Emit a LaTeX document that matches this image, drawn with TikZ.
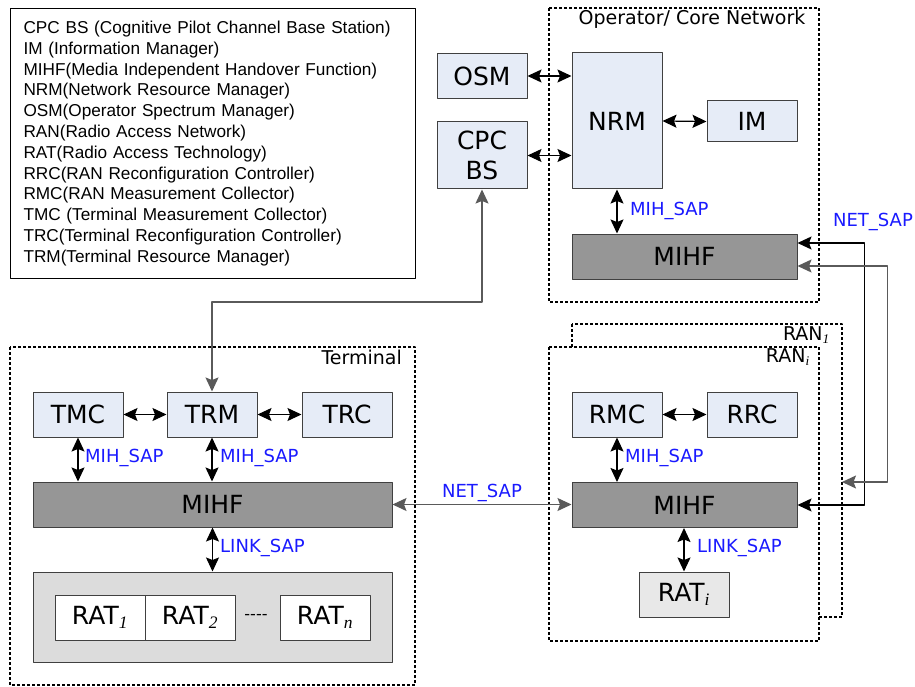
\documentclass[tikz,border=0pt]{standalone}
\usepackage{fontspec}
\setmainfont{DejaVu Sans}
\newfontfamily\legendfont{Liberation Sans}
\newfontfamily\subfont{Liberation Serif}
\usetikzlibrary{arrows.meta}
\definecolor{boxfill}{HTML}{E6ECF7}
\definecolor{boxline}{HTML}{404040}
\definecolor{mihffill}{HTML}{969696}
\definecolor{ratback}{HTML}{DCDCDC}
\definecolor{ratfill}{HTML}{E8E8E8}
\definecolor{sapblue}{HTML}{1A1AFF}
\definecolor{wiregray}{HTML}{5A5A5A}
\newcommand\ssub[1]{\textsubscript{\subfont\itshape #1}}
\begin{document}
\begin{tikzpicture}[x=1pt,y=-1pt, line join=round,
    >={Stealth[length=14pt,width=13pt,inset=2.5pt]},
    blk/.style={draw=boxline,fill=boxfill,line width=1pt,minimum width=90pt,minimum height=45pt,
        inner sep=0pt,font=\fontsize{25}{30}\selectfont,align=center},
    mihf/.style={blk,fill=mihffill,minimum width=225pt},
    area/.style={draw=black,line width=1.8pt,dash pattern=on 3pt off 2pt},
    sap/.style={text=sapblue,font=\fontsize{18}{20}\selectfont,inner sep=0pt},
    title/.style={font=\fontsize{19}{22}\selectfont,inner sep=0pt},
    link/.style={<->,line width=1.2pt}]
    \useasboundingbox (0,0) rectangle (915,687);
    % legend
    \node[draw=black,line width=1pt,anchor=north west,minimum width=405pt,minimum height=270pt,
        inner xsep=13pt,text width=379pt,align=left,
        font=\legendfont\fontsize{17.2}{20.8}\selectfont] (legend) at (10,8) {%
        CPC BS (Cognitive Pilot Channel Base Station)\\
        IM (Information Manager)\\
        MIHF(Media Independent Handover Function)\\
        NRM(Network Resource Manager)\\
        OSM(Operator Spectrum Manager)\\
        RAN(Radio Access Network)\\
        RAT(Radio Access Technology)\\
        RRC(RAN Reconfiguration Controller)\\
        RMC(RAN Measurement Collector)\\
        TMC (Terminal Measurement Collector)\\
        TRC(Terminal Reconfiguration Controller)\\
        TRM(Terminal Resource Manager)};
    % operator / core network
    \draw[area] (549,8) rectangle (819,302);
    \node[title] (optitle) at (692,19) {Operator/ Core Network};
    \node[blk] (osm) at (482,76) {OSM};
    \node[blk,minimum height=67pt] (cpc) at (482,155.5) {CPC\\BS};
    \node[blk,minimum height=136pt] (nrm) at (617,121) {NRM};
    \node[blk,minimum height=41pt] (im) at (752,121.5) {IM};
    \node[mihf] (mihfop) at (684.5,256.5) {MIHF};
    \draw[link] (osm.east) -- (osm.east -| nrm.west);
    \draw[link] (cpc.east) -- (cpc.east -| nrm.west);
    \draw[link] (nrm.east) -- (im.west);
    \draw[link] (nrm.south) -- (nrm.south |- mihfop.north);
    \node[sap,anchor=west] (sapop) at (630,211) {MIH\_SAP};
    % terminal
    \draw[area] (10,347) rectangle (415,685);
    \node[title,anchor=east] (termtitle) at (402,357) {Terminal};
    \node[blk] (tmc) at (78,414.5) {TMC};
    \node[blk] (trm) at (212,414.5) {TRM};
    \node[blk] (trc) at (347,414.5) {TRC};
    \node[mihf,minimum width=359pt] (mihft) at (212.5,504.5) {MIHF};
    \node[blk,fill=ratback,minimum width=359pt,minimum height=90pt] (ratbox) at (212.5,617) {};
    \node[blk,fill=white] (rat1) at (100,617.5) {RAT\ssub{1}};
    \node[blk,fill=white] (rat2) at (190,617.5) {RAT\ssub{2}};
    \node[blk,fill=white] (ratn) at (325,617.5) {RAT\ssub{n}};
    \node[font=\fontsize{16}{18}\selectfont,inner sep=0pt] (ratdots) at (256,617) {-{}-{}-{}-};
    \draw[link] (tmc.east) -- (trm.west);
    \draw[link] (trm.east) -- (trc.west);
    \draw[link] (tmc.south) -- (tmc.south |- mihft.north);
    \draw[link] (trm.south) -- (trm.south |- mihft.north);
    \draw[link] (mihft.south) -- (ratbox.north);
    \node[sap,anchor=west] (saptmc) at (85,458) {MIH\_SAP};
    \node[sap,anchor=west] (saptrm) at (220,458) {MIH\_SAP};
    \node[sap,anchor=west] (linkt) at (220,548) {LINK\_SAP};
    % RAN boxes
    \draw[area] (572,324) rectangle (842,617);
    \draw[area,fill=white] (549,347) rectangle (819,641);
    \node[title,anchor=east] (ranone) at (830,335) {RAN\ssub{1}};
    \node[title,anchor=east] (rani) at (810,357) {RAN\ssub{i}};
    \coordinate (ranedge) at (842,482);
    \node[blk] (rmc) at (617,414.5) {RMC};
    \node[blk] (rrc) at (752,414.5) {RRC};
    \node[mihf] (mihfr) at (684.5,505) {MIHF};
    \node[blk,fill=ratfill] (rati) at (684,594.5) {RAT\ssub{i}};
    \draw[link] (rmc.east) -- (rrc.west);
    \draw[link] (rmc.south) -- (rmc.south |- mihfr.north);
    \draw[link] (rati.north |- mihfr.south) -- (rati.north);
    \node[sap,anchor=west] (sapran) at (625,458) {MIH\_SAP};
    \node[sap,anchor=west] (linkr) at (697,548) {LINK\_SAP};
    % connections between parts
    \coordinate (cpcbend) at (482,302);
    \draw[link,draw=wiregray] (cpc.south) -- (cpcbend) -| (trm.north);
    \draw[link,draw=wiregray] (mihft.east) -- (mihft.east -| mihfr.west);
    \node[sap] (netmid) at (482,493) {NET\_SAP};
    \draw[link] ([yshift=13.5pt]mihfop.east) -- ++(67,0) |- (mihfr.east);
    \draw[link,draw=wiregray] ([yshift=-9.5pt]mihfop.east) -- ++(90,0) |- (ranedge);
    \node[sap] (netright) at (873,222) {NET\_SAP};
\end{tikzpicture}
\end{document}
